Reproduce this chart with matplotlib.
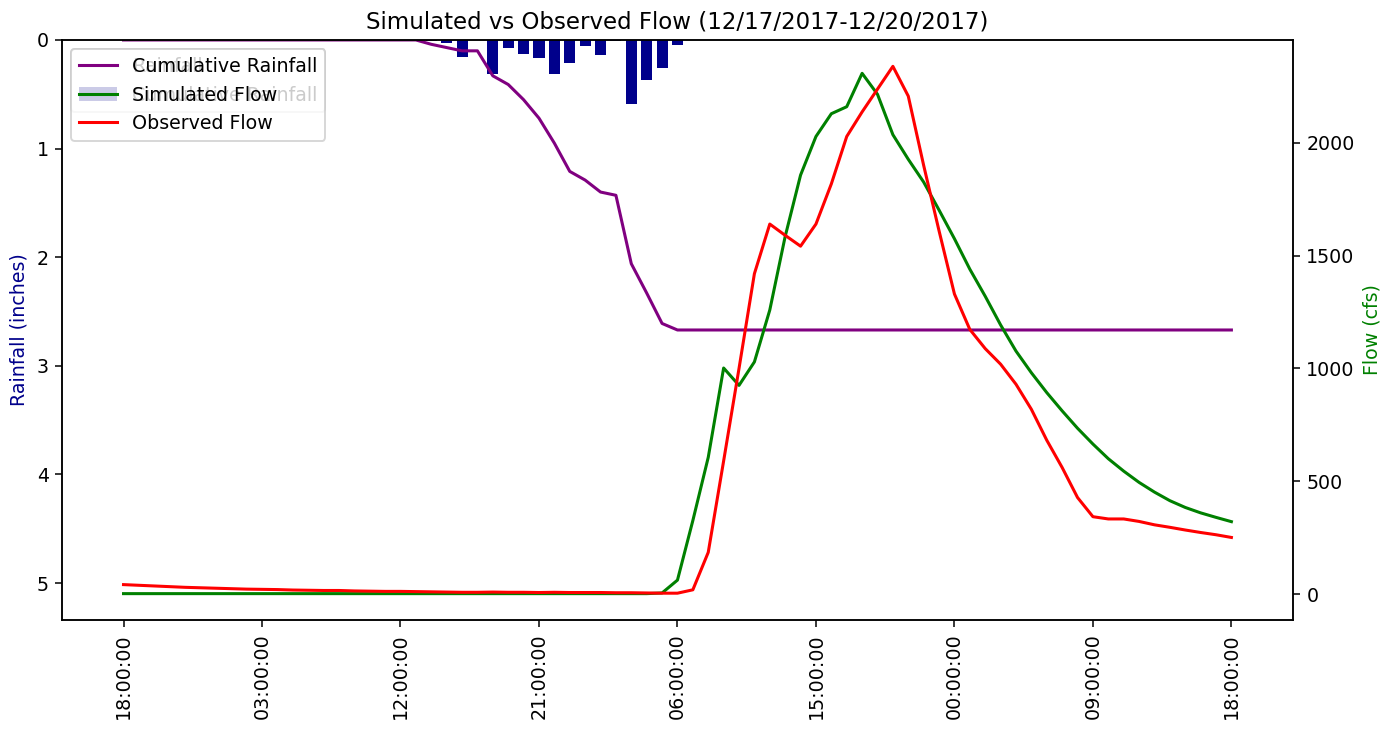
import numpy as np
import pandas as pd
import matplotlib
matplotlib.use('Agg')
from matplotlib import pyplot as plt
import matplotlib.dates as mdates

# Serie horaria 12/17/2017 18:00 -> 12/20/2017 18:00
times = pd.date_range('2017-12-17 18:00', '2017-12-20 18:00', freq='h')

# Lluvia horaria (pulgadas)
rain = [0.0] * 20 + [0.01, 0.03, 0.16, 0.0, 0.31, 0.07, 0.13, 0.17, 0.31, 0.21,
                     0.06, 0.14, 0.01, 0.59, 0.37, 0.26, 0.05] + [0.0] * 36

# Lluvia acumulada (pulgadas)
cum_rain = [0.0] * 20 + [0.04, 0.07, 0.10, 0.10, 0.33, 0.41, 0.55, 0.72, 0.95, 1.21,
                         1.29, 1.40, 1.43, 2.06, 2.33, 2.61] + [2.67] * 37

# Caudal simulado (cfs)
sim_flow = [2.0] * 35 + [5, 62, 326, 606, 1002, 925, 1029, 1259, 1585, 1857,
                         2028, 2129, 2160, 2308, 2215, 2036, 1927, 1826, 1702, 1575,
                         1440, 1320, 1193, 1077, 981, 893, 812, 735, 665, 600,
                         545, 495, 452, 414, 384, 360, 340, 321]

# Caudal observado (cfs)
obs_flow = [42, 39, 36, 33, 30, 28, 26, 24, 22, 21,
            20, 18, 17, 16, 16, 14, 13, 12, 12, 11,
            10, 9, 8, 8, 9, 8, 8, 7, 8, 7,
            7, 7, 6, 6, 5, 4, 4, 19, 185, 590,
            1000, 1420, 1640, 1590, 1542, 1640, 1818, 2028, 2137, 2238,
            2339, 2207, 1900, 1610, 1330, 1173, 1088, 1019, 930, 819,
            682, 561, 428, 343, 333, 333, 322, 307, 296, 284,
            273, 263, 251]

fig, ax1 = plt.subplots(figsize=(1399 / 137, 732 / 137), dpi=137)
fig.subplots_adjust(left=0.0443, right=0.9242, top=0.9454, bottom=0.153)

# Eje izquierdo: lluvia (invertido)
bars = ax1.bar(times, rain, width=0.03, color='darkblue')
cum_line, = ax1.plot(times, cum_rain, color='purple', lw=1.6)
ax1.set_ylim(max(cum_rain) * 2, 0)
ax1.set_ylabel('Rainfall (inches)', color='darkblue')
ax1.legend([cum_line, bars], ['Rainfall', 'Cumulative Rainfall'], loc='upper left')

# Eje derecho: caudal
ax2 = ax1.twinx()
sim_line, = ax2.plot(times, sim_flow, color='green', lw=1.6)
obs_line, = ax2.plot(times, obs_flow, color='red', lw=1.6)
ax2.set_ylabel('Flow (cfs)', color='green')
ax2.legend([cum_line, sim_line, obs_line],
           ['Cumulative Rainfall', 'Simulated Flow', 'Observed Flow'], loc='upper left')

ticks = pd.date_range(times[0], times[-1], freq='9h')
ax1.set_xticks(ticks)
ax1.xaxis.set_major_formatter(mdates.DateFormatter('%H:%M:%S'))
plt.setp(ax1.get_xticklabels(), rotation=90)
ax1.set_xlim(times[0] - pd.Timedelta(hours=4), times[-1] + pd.Timedelta(hours=4))

ax1.set_title('Simulated vs Observed Flow (12/17/2017-12/20/2017)')

fig.savefig('out.png', dpi=137)
